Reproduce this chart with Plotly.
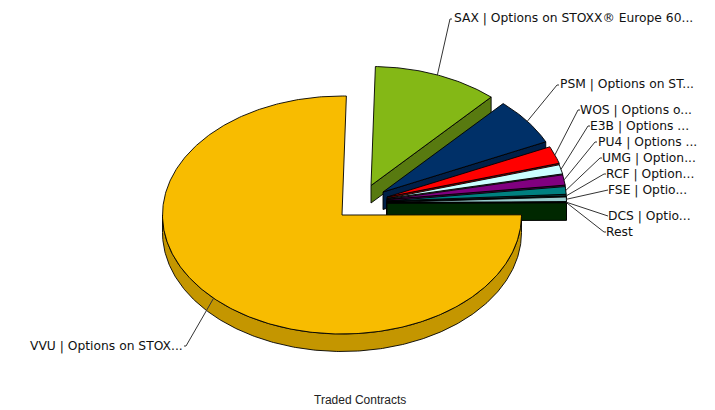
import math
import numpy as np
import plotly.graph_objects as go

# Data (share of traded contracts, percent; clockwise from just right of 12 o'clock)
categories = ["SAX", "PSM", "WOS", "E3B", "PU4", "UMG", "RCF", "FSE", "DCS", "Rest", "VVU"]
shares = [11.28, 6.4, 2.36, 1.25, 1.39, 1.03, 0.16, 0.62, 0.05, 0.05, 75.41]
labels = [
    "SAX | Options on STOXX® Europe 60...",
    "PSM | Options on ST...",
    "WOS | Options o...",
    "E3B | Options ...",
    "PU4 | Options ...",
    "UMG | Option...",
    "RCF | Option...",
    "FSE | Optio...",
    "DCS | Optio...",
    "Rest",
    "VVU | Options on STOX...",
]
axis_title = "Traded Contracts"

# Styles and layout
START_ANGLE = 88.6
top_colors = ["#84B816", "#003068", "#FF0000", "#CCFFFF", "#800080", "#008080",
              "#333333", "#99CCCC", "#555555", "#002800", "#F8BC00"]
wall_colors = ["#587A10", "#002048", "#A80000", "#778888", "#550055", "#005555",
               "#222222", "#668888", "#333333", "#002800", "#C49600"]
apex = [(371, 185.5), (383, 192), (387, 197), (387, 198.5), (387, 199.5), (387, 201),
        (387, 202), (387, 202.5), (387, 203), (387, 203), (342, 215)]
label_pos = [(452, 18), (558, 84), (578, 110), (588, 126), (596, 142), (600, 158),
             (604, 174), (606, 190), (606, 216), (604, 232), (185, 346)]
elbow = [(450, 19), (557, 85), (578, 110), (588, 126), (595, 142), (600, 158),
         (604, 174), (606, 190), (606, 216), (604, 232), (186, 346)]
RX, RY, DEPTH = 179.5, 119, 17.5

total = sum(shares)
fig = go.Figure()


def poly(xs, ys, fill, line="#000000", width=0.9):
    fig.add_trace(go.Scatter(x=list(xs), y=list(ys), mode="lines", fill="toself", fillcolor=fill,
                             line=dict(color=line, width=width), hoverinfo="skip", showlegend=False))


def arc(cx, cy, a0, a1, dy=0):
    n = max(3, int(abs(a1 - a0) * 1.5))
    t = np.radians(np.linspace(a0, a1, n))
    return cx + RX * np.cos(t), cy - RY * np.sin(t) + dy


spans = []
angle = START_ANGLE
for v in shares:
    next_angle = angle - v / total * 360
    spans.append((angle, next_angle))
    angle = next_angle

mids = []
for i, (a0, a1) in enumerate(spans):
    cx, cy = apex[i]
    mids.append((a0 + a1) / 2)
    if categories[i] == "VVU":
        # curved outer wall of the front half
        xa, ya = arc(cx, cy, -180, 0)
        xb, yb = arc(cx, cy, 0, -180, DEPTH)
        poly(list(xa) + list(xb) + [xa[0]], list(ya) + list(yb) + [ya[0]], wall_colors[i])
    else:
        # radial wall under the clockwise end of the slice
        ex, ey = cx + RX * math.cos(math.radians(a1)), cy - RY * math.sin(math.radians(a1))
        poly([cx, ex, ex, cx, cx], [cy, ey, ey + DEPTH, cy + DEPTH, cy], wall_colors[i])
    xs, ys = arc(cx, cy, a0, a1)
    poly([cx] + list(xs) + [cx], [cy] + list(ys) + [cy], top_colors[i])

for i, lab in enumerate(labels):
    cx, cy = apex[i]
    t = math.radians(mids[i])
    sx, sy = cx + RX * math.cos(t), cy - RY * math.sin(t)
    fig.add_trace(go.Scatter(x=[sx, elbow[i][0], elbow[i][0] + (2 if i != 10 else -2)],
                             y=[sy, elbow[i][1], elbow[i][1]], mode="lines",
                             line=dict(color="#333333", width=1), hoverinfo="skip", showlegend=False))
    fig.add_annotation(x=label_pos[i][0], y=label_pos[i][1], text=lab, showarrow=False,
                       xanchor="right" if i == 10 else "left", yanchor="middle",
                       font=dict(family="DejaVu Sans", size=12.3, color="#111111"))

fig.add_annotation(x=360, y=400, text=axis_title, showarrow=False, xanchor="center", yanchor="middle",
                   font=dict(family="Liberation Sans", size=12, color="#222222"))

fig.update_layout(width=715, height=410, margin=dict(l=0, r=0, t=0, b=0),
                  paper_bgcolor="white", plot_bgcolor="white", showlegend=False,
                  xaxis=dict(range=[0, 715], visible=False, fixedrange=True),
                  yaxis=dict(range=[410, 0], visible=False, fixedrange=True))
fig.write_html("out.html", post_script="document.body.style.margin='0';document.body.style.overflow='hidden';",
               config={"displayModeBar": False})
